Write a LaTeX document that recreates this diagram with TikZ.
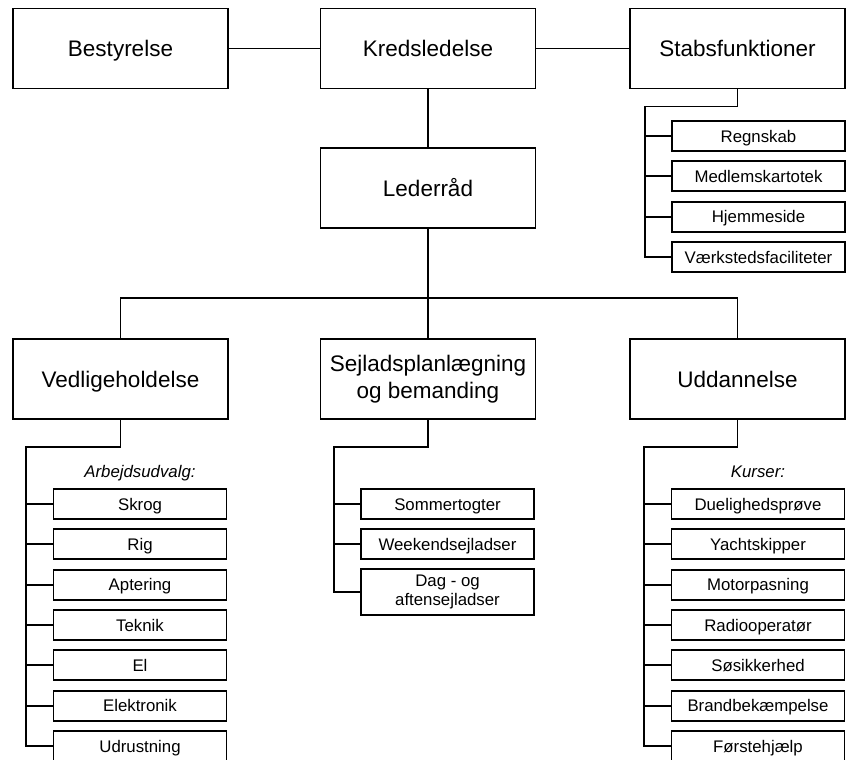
\documentclass[tikz,border=0pt]{standalone}
\usepackage{fontspec}
\setmainfont{Liberation Sans}
\begin{document}
\begin{tikzpicture}[x=1pt,y=-1pt,
  bigbox/.style={draw, line width=1.8pt, minimum width=215pt, minimum height=80pt, inner sep=0pt, align=center, font=\fontsize{22.5}{27}\selectfont},
  smallbox/.style={draw, line width=1.8pt, minimum width=173pt, minimum height=30pt, inner sep=0pt, align=center, font=\fontsize{16.8}{19.5}\selectfont},
  bigline/.style={text height=16.1pt, text depth=0pt},
  oneline/.style={text height=12pt, text depth=0pt},
  conn/.style={line width=1.8pt},
  hdr/.style={font=\fontsize{16.8}{19.5}\selectfont\itshape, inner sep=0pt, text height=12pt, text depth=0pt}]
\useasboundingbox (0,0) rectangle (846,760);
% top row
\node[bigbox, bigline] (best) at (120.5,48.5) {Bestyrelse};
\node[bigbox, bigline] (kreds) at (428,48.5) {Kredsledelse};
\node[bigbox, bigline] (stab) at (737.5,48.5) {Stabsfunktioner};
\node[bigbox, bigline] (leder) at (428,188) {Lederråd};
% second row
\node[bigbox, bigline] (ved) at (120.5,379) {Vedligeholdelse};
\node[bigbox] (sej) at (428,379) {Sejladsplanlægning\\og bemanding};
\node[bigbox, bigline] (udd) at (737.5,379) {Uddannelse};
% staff sub boxes
\node[smallbox, oneline] (s1) at (758.5,136) {Regnskab};
\node[smallbox, oneline] (s2) at (758.5,176.3) {Medlemskartotek};
\node[smallbox, oneline] (s3) at (758.5,216.7) {Hjemmeside};
\node[smallbox, oneline] (s4) at (758.5,257) {Værkstedsfaciliteter};
% left sub boxes
\node[hdr] (lh) at (140,471) {Arbejdsudvalg:};
\node[smallbox, oneline] (l1) at (140,504) {Skrog};
\node[smallbox, oneline] (l2) at (140,544.3) {Rig};
\node[smallbox, oneline] (l3) at (140,584.7) {Aptering};
\node[smallbox, oneline] (l4) at (140,625) {Teknik};
\node[smallbox, oneline] (l5) at (140,665.3) {El};
\node[smallbox, oneline] (l6) at (140,705.7) {Elektronik};
\node[smallbox, oneline] (l7) at (140,746) {Udrustning};
% middle sub boxes
\node[smallbox, oneline] (m1) at (447.5,504) {Sommertogter};
\node[smallbox, oneline] (m2) at (447.5,544.3) {Weekendsejladser};
\node[smallbox, minimum height=46pt] (m3) at (447.5,592) {Dag - og\\aftensejladser};
% right sub boxes
\node[hdr] (rh) at (758,471) {Kurser:};
\node[smallbox, oneline] (r1) at (758,504) {Duelighedsprøve};
\node[smallbox, oneline] (r2) at (758,544.3) {Yachtskipper};
\node[smallbox, oneline] (r3) at (758,584.7) {Motorpasning};
\node[smallbox, oneline] (r4) at (758,625) {Radiooperatør};
\node[smallbox, oneline] (r5) at (758,665.3) {Søsikkerhed};
\node[smallbox, oneline] (r6) at (758,705.7) {Brandbekæmpelse};
\node[smallbox, oneline] (r7) at (758,746) {Førstehjælp};
% coordinates
\coordinate (bus) at (428,298);
\coordinate (sv) at (645,106.5);
\coordinate (lv) at (26,447);
\coordinate (mv) at (334,447);
\coordinate (rv) at (644,447);
% connectors
\draw[conn] (best.east) -- (kreds.west);
\draw[conn] (kreds.east) -- (stab.west);
\draw[conn] (kreds.south) -- (leder.north);
\draw[conn] (leder.south) -- (sej.north);
\draw[conn] (ved.north) |- (bus) -| (udd.north);
\draw[conn] (stab.south) |- (sv) |- (s4.west);
\foreach \n in {s1,s2,s3} \draw[conn] (sv |- \n.west) -- (\n.west);
\draw[conn] (ved.south) |- (lv) |- (l7.west);
\foreach \n in {l1,l2,l3,l4,l5,l6} \draw[conn] (lv |- \n.west) -- (\n.west);
\draw[conn] (sej.south) |- (mv) |- (m3.west);
\foreach \n in {m1,m2} \draw[conn] (mv |- \n.west) -- (\n.west);
\draw[conn] (udd.south) |- (rv) |- (r7.west);
\foreach \n in {r1,r2,r3,r4,r5,r6} \draw[conn] (rv |- \n.west) -- (\n.west);
\end{tikzpicture}
\end{document}
